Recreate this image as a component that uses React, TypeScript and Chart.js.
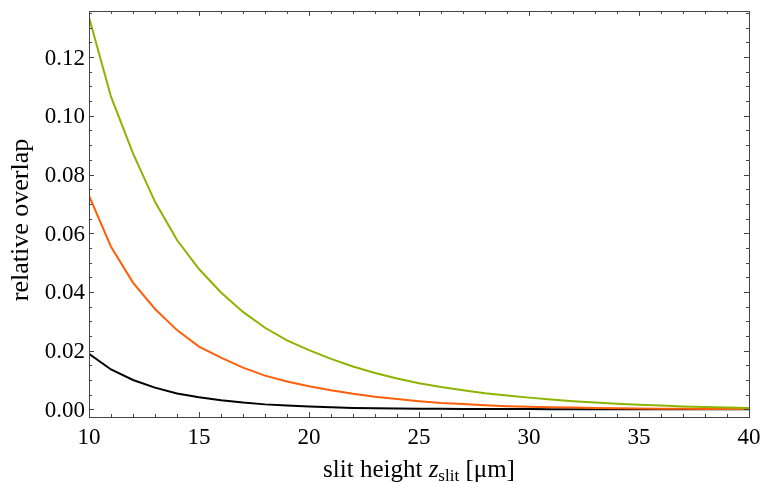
import { useEffect, useRef } from "react";
import { Chart, registerables } from "chart.js";

Chart.register(...registerables);

// ---- data ----
const slitHeights = [10, 11, 12, 13, 14, 15, 16, 17, 18, 19, 20, 21, 22, 23, 24, 25, 26, 27, 28, 29, 30, 31, 32, 33, 34, 35, 36, 37, 38, 39, 40];
const greenOverlap = [0.1336, 0.1065, 0.0872, 0.0707, 0.0577, 0.0478, 0.0398, 0.0332, 0.0278, 0.0235, 0.0202, 0.0172, 0.0146, 0.0124, 0.0105, 0.0089, 0.0076, 0.0065, 0.0055, 0.0047, 0.0040, 0.0034, 0.0028, 0.0023, 0.0019, 0.0016, 0.0013, 0.0010, 0.0008, 0.0006, 0.0005];
const orangeOverlap = [0.0728, 0.0554, 0.0432, 0.0342, 0.0270, 0.0214, 0.0176, 0.0142, 0.0115, 0.0095, 0.0079, 0.0065, 0.0053, 0.0043, 0.0035, 0.0028, 0.0022, 0.0018, 0.0014, 0.0011, 0.0009, 0.0007, 0.0006, 0.0005, 0.0004, 0.0003, 0.0002, 0.0002, 0.0001, 0.0001, 0.0001];
const blackOverlap = [0.0189, 0.0136, 0.0100, 0.0074, 0.0054, 0.0041, 0.0031, 0.0023, 0.0017, 0.0013, 0.0010, 0.0007, 0.0005, 0.0004, 0.0003, 0.0002, 0.0002, 0.0001, 0.0001, 0.0001, 0.0001, 0, 0, 0, 0, 0, 0, 0, 0, 0, 0];

const xMajorTicks = [10, 15, 20, 25, 30, 35, 40];
const xMinorTicks = [10, 11, 12, 13, 14, 15, 16, 17, 18, 19, 20, 21, 22, 23, 24, 25, 26, 27, 28, 29, 30, 31, 32, 33, 34, 35, 36, 37, 38, 39, 40];
const yMajorTicks = [0, 0.02, 0.04, 0.06, 0.08, 0.1, 0.12];
const yMinorTicks = [0, 0.005, 0.01, 0.015, 0.02, 0.025, 0.03, 0.035, 0.04, 0.045, 0.05, 0.055, 0.06, 0.065, 0.07, 0.075, 0.08, 0.085, 0.09, 0.095, 0.1, 0.105, 0.11, 0.115, 0.12, 0.125, 0.13, 0.135];

const xTitleParts = { before: "slit height ", variable: "z", subscript: "slit", after: " [μm]" };
const yTitle = "relative overlap";

const SERIF = "'Liberation Serif', 'Times New Roman', serif";

const framePlugin = {
  id: "mmaFrame",
  afterDraw(chart: any) {
    const ctx = chart.ctx as CanvasRenderingContext2D;
    const { left, right, top, bottom } = chart.chartArea;
    const xs = chart.scales.x;
    const ys = chart.scales.y;
    ctx.save();
    ctx.strokeStyle = "#444";
    ctx.lineWidth = 1;
    ctx.strokeRect(Math.round(left) + 0.5, Math.round(top) + 0.5, Math.round(right - left), Math.round(bottom - top));

    ctx.beginPath();
    for (const v of xMinorTicks) {
      const len = xMajorTicks.includes(v) ? 5 : 3;
      const px = Math.round(xs.getPixelForValue(v)) + 0.5;
      ctx.moveTo(px, bottom);
      ctx.lineTo(px, bottom - len);
      ctx.moveTo(px, top);
      ctx.lineTo(px, top + len);
    }
    for (const v of yMinorTicks) {
      const major = yMajorTicks.some((m) => Math.abs(m - v) < 1e-9);
      const len = major ? 5 : 3;
      const py = Math.round(ys.getPixelForValue(v)) + 0.5;
      ctx.moveTo(left, py);
      ctx.lineTo(left + len, py);
      ctx.moveTo(right, py);
      ctx.lineTo(right - len, py);
    }
    ctx.stroke();

    // tick labels
    ctx.fillStyle = "#000";
    ctx.font = `23px ${SERIF}`;
    ctx.textBaseline = "alphabetic";
    ctx.textAlign = "center";
    for (const v of xMajorTicks) {
      ctx.fillText(String(v), xs.getPixelForValue(v), bottom + 26.5);
    }
    ctx.textAlign = "right";
    for (const v of yMajorTicks) {
      ctx.fillText(v.toFixed(2), left - 4, ys.getPixelForValue(v) + 7.5);
    }

    // x title with italic variable and subscript
    const regular = `25px ${SERIF}`;
    const italic = `italic 25px ${SERIF}`;
    const sub = `17px ${SERIF}`;
    ctx.textAlign = "left";
    ctx.font = regular;
    const w1 = ctx.measureText(xTitleParts.before).width;
    const w4 = ctx.measureText(xTitleParts.after).width;
    ctx.font = italic;
    const w2 = ctx.measureText(xTitleParts.variable).width;
    ctx.font = sub;
    const w3 = ctx.measureText(xTitleParts.subscript).width;
    const total = w1 + w2 + w3 + w4;
    let x = (left + right) / 2 - total / 2;
    const by = bottom + 60;
    ctx.font = regular;
    ctx.fillText(xTitleParts.before, x, by);
    x += w1;
    ctx.font = italic;
    ctx.fillText(xTitleParts.variable, x, by);
    x += w2;
    ctx.font = sub;
    ctx.fillText(xTitleParts.subscript, x, by + 4);
    x += w3;
    ctx.font = regular;
    ctx.fillText(xTitleParts.after, x, by);

    // y title
    ctx.save();
    ctx.translate(28, (top + bottom) / 2 + 6);
    ctx.rotate(-Math.PI / 2);
    ctx.textAlign = "center";
    ctx.font = `26px ${SERIF}`;
    ctx.fillText(yTitle, 0, 0);
    ctx.restore();

    ctx.restore();
  },
};

export default function App() {
  const canvasRef = useRef<HTMLCanvasElement | null>(null);

  useEffect(() => {
    if (!canvasRef.current) return;
    const mk = (values: number[]) => slitHeights.map((h, i) => ({ x: h, y: values[i] }));
    const chart = new Chart(canvasRef.current, {
      type: "line",
      data: {
        datasets: [
          { label: "green", data: mk(greenOverlap), borderColor: "#8cb400", borderWidth: 2, pointRadius: 0, tension: 0, fill: false },
          { label: "orange", data: mk(orangeOverlap), borderColor: "#ff5f0a", borderWidth: 2, pointRadius: 0, tension: 0, fill: false },
          { label: "black", data: mk(blackOverlap), borderColor: "#000000", borderWidth: 2, pointRadius: 0, tension: 0, fill: false },
        ],
      },
      options: {
        animation: false,
        responsive: true,
        maintainAspectRatio: false,
        layout: { padding: { left: 89, right: 13, top: 11, bottom: 66 } },
        plugins: { legend: { display: false }, tooltip: { enabled: false } },
        scales: {
          x: { type: "linear", min: 10, max: 40, display: false },
          y: { type: "linear", min: -0.0026, max: 0.1357, display: false },
        },
      },
      plugins: [framePlugin],
    });
    return () => chart.destroy();
  }, []);

  return (
    <div style={{ position: "fixed", left: 0, top: 0, width: 762, height: 483, background: "#fff" }}>
      <canvas ref={canvasRef} />
    </div>
  );
}
